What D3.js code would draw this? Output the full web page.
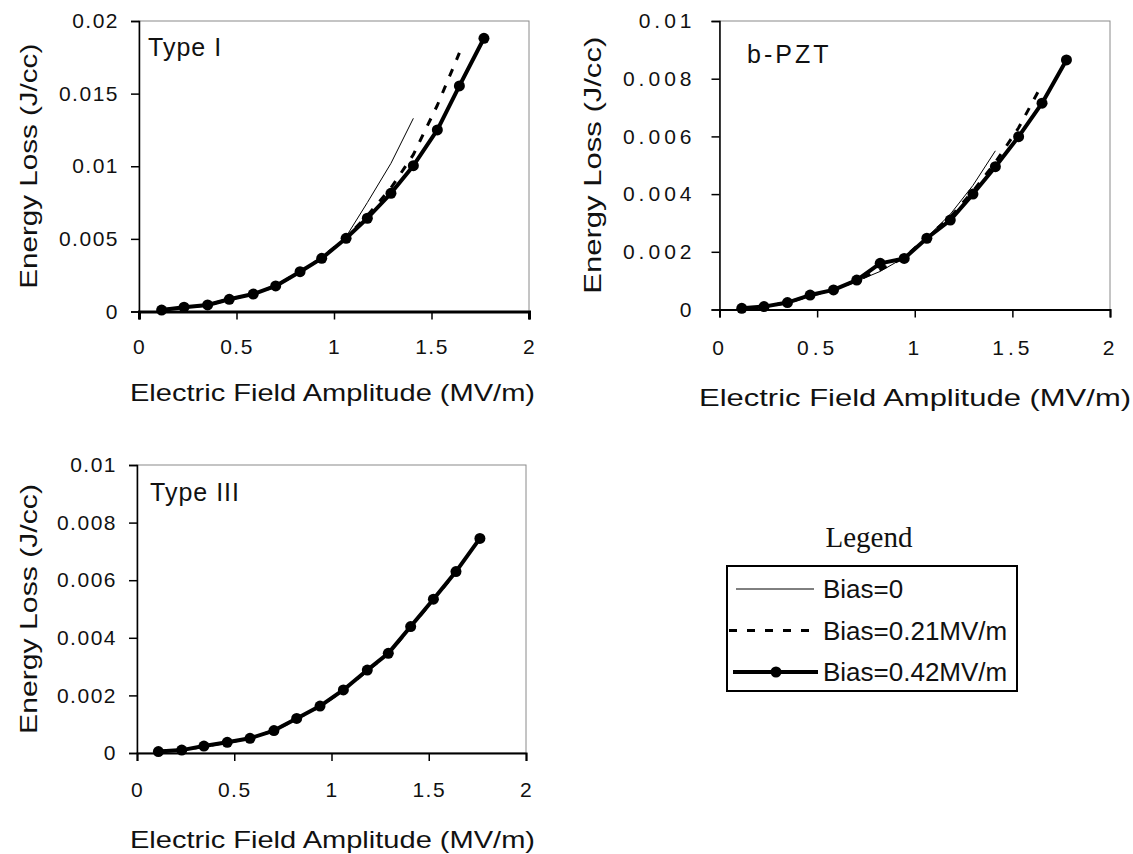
<!DOCTYPE html>
<html>
<head>
<meta charset="utf-8">
<script src="https://cdn.jsdelivr.net/npm/d3@7"></script>
<style>
    body { margin: 0; background: #fff; }
    svg { display: block; }
    text { font-family: "Liberation Sans", Arial, sans-serif; fill: #111; }
    .legend-title { font-family: "Liberation Serif", "Times New Roman", serif; }
</style>
</head>
<body>
<svg id="chart" width="1133" height="854"></svg>
<script>
// field amplitude (MV/m) of each measurement
const fieldTypeI = [0.116, 0.231, 0.352, 0.463, 0.586, 0.701, 0.826, 0.937, 1.062, 1.171, 1.292, 1.407, 1.530, 1.643, 1.769]
const fieldPZT = [0.114, 0.228, 0.348, 0.464, 0.584, 0.703, 0.823, 0.946, 1.062, 1.182, 1.298, 1.413, 1.532, 1.652, 1.777]
const fieldTypeIII = [0.110, 0.230, 0.344, 0.464, 0.581, 0.704, 0.821, 0.941, 1.061, 1.184, 1.292, 1.407, 1.524, 1.640, 1.763]

// energy loss (J/cc)
const typeIBias0 = [0.0001, 0.0003, 0.00045, 0.00083, 0.0012, 0.00174, 0.00272, 0.00366, 0.00515, 0.0075, 0.0102, 0.0133]
const typeIBias021 = [0.0001, 0.0003, 0.00045, 0.00084, 0.0012, 0.00176, 0.00274, 0.00368, 0.00508, 0.0066, 0.0085, 0.0108, 0.0142, 0.0178]
const typeIBias042 = [0.0001, 0.0003, 0.00045, 0.00084, 0.0012, 0.00176, 0.00274, 0.00366, 0.00504, 0.00642, 0.00814, 0.01004, 0.0125, 0.01553, 0.01881]

const pztBias0 = [0.00004, 0.0001, 0.00022, 0.00046, 0.00066, 0.00098, 0.00132, 0.0018, 0.0025, 0.0033, 0.0043, 0.0055]
const pztBias021 = [0.00004, 0.0001, 0.00024, 0.00048, 0.00068, 0.001, 0.00138, 0.0018, 0.0025, 0.0032, 0.0041, 0.0051, 0.0063, 0.0078]
const pztBias042 = [0.00004, 0.0001, 0.00024, 0.0005, 0.00068, 0.00102, 0.0016, 0.00177, 0.00247, 0.0031, 0.004, 0.00495, 0.00599, 0.00715, 0.00865]

const typeIIIBias0 = [0.00005, 0.0001, 0.00022, 0.00036, 0.0005, 0.00077, 0.00118, 0.0016, 0.00215, 0.00284, 0.00342, 0.0044]
const typeIIIBias021 = [0.00005, 0.0001, 0.00023, 0.00037, 0.00051, 0.00078, 0.00119, 0.00162, 0.00218, 0.00286, 0.00344, 0.00437, 0.00532, 0.00628]
const typeIIIBias042 = [0.00005, 0.0001, 0.00024, 0.00037, 0.00051, 0.00078, 0.0012, 0.00163, 0.00219, 0.00288, 0.00346, 0.00439, 0.00534, 0.0063, 0.00745]

const fieldTicks = [0, 0.5, 1, 1.5, 2]
const lossTicksLarge = [0, 0.005, 0.01, 0.015, 0.02]
const lossTicksSmall = [0, 0.002, 0.004, 0.006, 0.008, 0.01]
const biasLabels = ['Bias=0', 'Bias=0.21MV/m', 'Bias=0.42MV/m']

const xTitle = 'Electric Field Amplitude (MV/m)'
const yTitle = 'Energy Loss (J/cc)'

let svg = d3.select('#chart')

let panels = [
    {
        name: 'Type I', field: fieldTypeI, series: [typeIBias0, typeIBias021, typeIBias042],
        yTicks: lossTicksLarge, yMax: 0.02,
        left: 139, right: 529, top: 21, bottom: 311.5,
        spacing: 1.5, xAxisWidth: 3, xPad: 20, yPad: 12,
        label: { x: 148, y: 56, spacing: 1 },
        yTitle: { x: 37, len: 245 }, xTitle: { y: 401, x0: 130, len: 405 }
    },
    {
        name: 'b-PZT', field: fieldPZT, series: [pztBias0, pztBias021, pztBias042],
        yTicks: lossTicksSmall, yMax: 0.01,
        left: 719.5, right: 1110, top: 21, bottom: 309.5,
        spacing: 4, xAxisWidth: 2, xPad: 23, yPad: 16,
        label: { x: 747, y: 63, spacing: 3 },
        yTitle: { x: 601, len: 257 }, xTitle: { y: 406, x0: 699, len: 432 }
    },
    {
        name: 'Type III', field: fieldTypeIII, series: [typeIIIBias0, typeIIIBias021, typeIIIBias042],
        yTicks: lossTicksSmall, yMax: 0.01,
        left: 137, right: 526, top: 465, bottom: 753,
        spacing: 1.5, xAxisWidth: 2, xPad: 21, yPad: 12,
        label: { x: 150, y: 501, spacing: 1 },
        yTitle: { x: 37, len: 250 }, xTitle: { y: 848, x0: 130, len: 405 }
    }
]

// line looks: thin, dashed, thick with dots
let styles = [
    { width: 1, dash: null },
    { width: 3, dash: '8,10' },
    { width: 4, dash: null }
]

panels.forEach((p) => {
    let xScale = d3.scaleLinear().domain([0, 2]).range([p.left, p.right])
    let yScale = d3.scaleLinear().domain([0, p.yMax]).range([p.bottom, p.top])

    let g = svg.append('g')

    // plot frame
    g.append('rect')
        .attr('x', p.left)
        .attr('y', p.top)
        .attr('width', p.right - p.left)
        .attr('height', p.bottom - p.top)
        .attr('fill', 'none')
        .attr('stroke', '#8a8a8a')
        .attr('stroke-width', 1)

    let xAxis = d3.axisBottom(xScale)
        .tickValues(fieldTicks)
        .tickSize(8)
        .tickPadding(p.xPad)
        .tickFormat((d) => String(d))

    let yAxis = d3.axisLeft(yScale)
        .tickValues(p.yTicks)
        .tickSize(8)
        .tickPadding(p.yPad)
        .tickFormat((d) => String(+d.toFixed(4)))

    let gx = g.append('g')
        .attr('transform', `translate(0,${p.bottom})`)
        .call(xAxis)
    gx.select('.domain').attr('stroke', '#000').attr('stroke-width', p.xAxisWidth)
    gx.selectAll('.tick line').attr('stroke', '#000').attr('stroke-width', 1.5)
    gx.selectAll('.tick text')
        .attr('font-size', 21)
        .attr('fill', '#111')
        .style('font-family', '"Liberation Sans", Arial, sans-serif')
        .style('letter-spacing', p.spacing + 'px')

    let gy = g.append('g')
        .attr('transform', `translate(${p.left},0)`)
        .call(yAxis)
    gy.select('.domain').attr('stroke', '#000').attr('stroke-width', 1.5)
    gy.selectAll('.tick line').attr('stroke', '#000').attr('stroke-width', 1.5)
    gy.selectAll('.tick text')
        .attr('font-size', 21)
        .attr('fill', '#111')
        .style('font-family', '"Liberation Sans", Arial, sans-serif')
        .style('letter-spacing', p.spacing + 'px')

    // the three bias curves
    p.series.forEach((values, s) => {
        let line = d3.line()
            .x((d, i) => xScale(p.field[i]))
            .y((d) => yScale(d))

        g.append('path')
            .datum(values)
            .attr('d', line)
            .attr('fill', 'none')
            .attr('stroke', '#000')
            .attr('stroke-width', styles[s].width)
            .attr('stroke-dasharray', styles[s].dash)
            .attr('stroke-linejoin', 'round')

        if (s === 2) {
            g.selectAll('circle.dot')
                .data(values)
                .enter()
                .append('circle')
                .attr('class', 'dot')
                .attr('cx', (d, i) => xScale(p.field[i]))
                .attr('cy', (d) => yScale(d))
                .attr('r', 5.5)
                .attr('fill', '#000')
        }
    })

    g.append('text')
        .attr('x', p.label.x)
        .attr('y', p.label.y)
        .attr('font-size', 25)
        .style('letter-spacing', p.label.spacing + 'px')
        .text(p.name)

    g.append('text')
        .attr('transform', `translate(${p.yTitle.x},${(p.top + p.bottom) / 2}) rotate(-90)`)
        .attr('text-anchor', 'middle')
        .attr('font-size', 24)
        .attr('textLength', p.yTitle.len)
        .attr('lengthAdjust', 'spacingAndGlyphs')
        .text(yTitle)

    g.append('text')
        .attr('x', p.xTitle.x0)
        .attr('y', p.xTitle.y)
        .attr('font-size', 24)
        .attr('textLength', p.xTitle.len)
        .attr('lengthAdjust', 'spacingAndGlyphs')
        .text(xTitle)
})

// legend
let legend = svg.append('g')

legend.append('text')
    .attr('class', 'legend-title')
    .attr('x', 869)
    .attr('y', 547)
    .attr('text-anchor', 'middle')
    .attr('font-size', 29)
    .text('Legend')

legend.append('rect')
    .attr('x', 727)
    .attr('y', 566)
    .attr('width', 290)
    .attr('height', 125)
    .attr('fill', 'none')
    .attr('stroke', '#000')
    .attr('stroke-width', 2)

let rowY = d3.scalePoint().domain(biasLabels).range([589, 672])
let sampleX = [[736, 814], [729, 815], [733, 818]]

biasLabels.forEach((label, s) => {
    let y = rowY(label)
    legend.append('line')
        .attr('x1', sampleX[s][0])
        .attr('x2', sampleX[s][1])
        .attr('y1', y)
        .attr('y2', y)
        .attr('stroke', '#000')
        .attr('stroke-width', styles[s].width)
        .attr('stroke-dasharray', styles[s].dash)
    if (s === 2) {
        legend.append('circle')
            .attr('cx', 776)
            .attr('cy', y)
            .attr('r', 5.5)
            .attr('fill', '#000')
    }
    legend.append('text')
        .attr('x', 823)
        .attr('y', y + 9)
        .attr('font-size', 26)
        .text(label)
})
</script>
</body>
</html>
